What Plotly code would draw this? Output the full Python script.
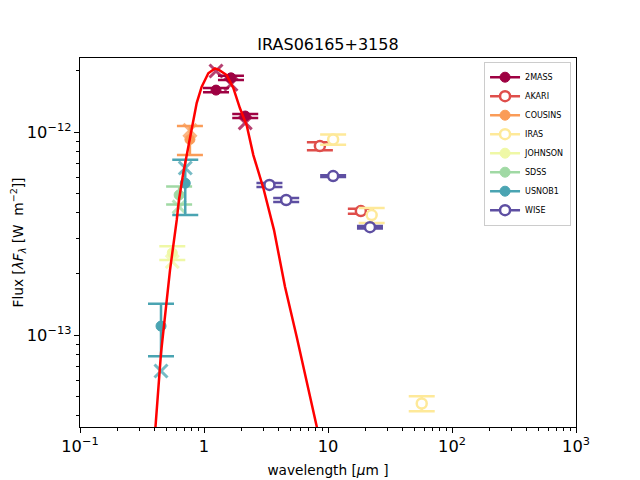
import plotly.graph_objects as go

title = "IRAS06165+3158"

surveys = ["2MASS", "AKARI", "COUSINS", "IRAS", "JOHNSON", "SDSS", "USNOB1", "WISE"]
colors = ["#9e0142", "#df4e4b", "#fa9c58", "#fee999",
          "#eff8a6", "#a0d9a4", "#4aa4b2", "#5e4fa2"]
hollow = [False, True, False, True, False, False, False, True]

# observed photometry: wavelength [um], flux [W m-2], flux error
mass2_wave = [1.25, 1.65, 2.15]
mass2_flux = [1.61e-12, 1.85e-12, 1.20e-12]
mass2_err = [0.037e-12, 0.043e-12, 0.028e-12]

akari_wave = [8.6, 18.4]
akari_flux = [8.53e-13, 4.08e-13]
akari_err = [0.39e-13, 0.115e-13]

cousins_wave = [0.77]
cousins_flux = [9.2e-13]
cousins_err = [1.5e-13]

iras_wave = [11.0, 22.5, 57.0]
iras_flux = [9.2e-13, 3.9e-13, 4.6e-14]
iras_err = [0.53e-13, 0.33e-13, 0.039e-13]

johnson_wave = [0.555]
johnson_flux = [2.54e-13]
johnson_err = [0.2e-13]

sdss_wave = [0.63]
sdss_flux = [4.9e-13]
sdss_err = [0.5e-13]

usnob1_wave = [0.706, 0.45]
usnob1_flux = [5.6e-13, 1.107e-13]
usnob1_err = [1.7e-13, 0.32e-13]

wise_wave = [3.37, 4.6, 11.0, 21.8]
wise_flux = [5.49e-13, 4.63e-13, 6.07e-13, 3.40e-13]
wise_err = [0.13e-13, 0.11e-13, 0.06e-13, 0.05e-13]

# synthetic (model) photometry, drawn as crosses
mass2_model = [2.0e-12, 1.72e-12, 1.11e-12]
cousins_model = [1.02e-12]
johnson_model = [2.30e-13]
sdss_model = [4.28e-13]
usnob1_model = [6.65e-13, 6.65e-14]

# model SED curve
sed_wave = [0.40, 0.406, 0.450, 0.484, 0.532, 0.603, 0.628, 0.681, 0.747, 0.805,
            0.873, 0.957, 1.083, 1.227, 1.328, 1.523, 1.723, 1.95, 2.21, 2.50,
            3.01, 3.67, 4.50, 5.59, 6.73, 8.20, 8.96]
sed_flux = [3.0e-14, 3.52e-14, 8.15e-14, 1.19e-13, 2.09e-13, 3.69e-13, 4.63e-13,
            6.28e-13, 8.47e-13, 1.06e-12, 1.39e-12, 1.67e-12, 1.95e-12, 2.06e-12,
            2.02e-12, 1.91e-12, 1.65e-12, 1.31e-12, 1.08e-12, 7.7e-13, 5.3e-13,
            3.29e-13, 1.73e-13, 9.8e-14, 6.0e-14, 3.53e-14, 2.7e-14]

obs = [
    (mass2_wave, mass2_flux, mass2_err),
    (akari_wave, akari_flux, akari_err),
    (cousins_wave, cousins_flux, cousins_err),
    (iras_wave, iras_flux, iras_err),
    (johnson_wave, johnson_flux, johnson_err),
    (sdss_wave, sdss_flux, sdss_err),
    (usnob1_wave, usnob1_flux, usnob1_err),
    (wise_wave, wise_flux, wise_err),
]
models = {"2MASS": mass2_model, "COUSINS": cousins_model, "JOHNSON": johnson_model,
          "SDSS": sdss_model, "USNOB1": usnob1_model}


def rgba(hex_color, alpha):
    h = hex_color.lstrip("#")
    r, g, b = int(h[0:2], 16), int(h[2:4], 16), int(h[4:6], 16)
    return f"rgba({r},{g},{b},{alpha})"


def marker_style(color, is_open):
    if is_open:
        return dict(symbol="circle", size=10, color="white",
                    line=dict(color=color, width=2.5))
    return dict(symbol="circle", size=10, color=color, line=dict(color=color, width=1))


fig = go.Figure()

# crosses for the model photometry
for name, col, (wave, flux, err) in zip(surveys, colors, obs):
    if name in models:
        fig.add_trace(go.Scatter(
            x=wave, y=models[name], mode="markers", showlegend=False,
            marker=dict(symbol="x-thin", size=13,
                        line=dict(color=rgba(col, 0.75), width=3)),
        ))

# observed points with error bars
for name, col, opn, (wave, flux, err) in zip(surveys, colors, hollow, obs):
    fig.add_trace(go.Scatter(
        x=wave, y=flux, mode="markers", showlegend=False,
        marker=marker_style(col, opn),
        error_y=dict(type="data", array=err, color=col, thickness=2.5, width=13),
    ))
    # legend entry
    fig.add_trace(go.Scatter(
        x=[None], y=[None], mode="lines+markers", name=name,
        marker=marker_style(col, opn), line=dict(color=col, width=2.5),
    ))

fig.add_trace(go.Scatter(
    x=sed_wave, y=sed_flux, mode="lines", showlegend=False,
    line=dict(color="red", width=2.5),
))

axis_common = dict(
    type="log", showline=True, linecolor="black", linewidth=1, mirror=True,
    ticks="outside", ticklen=5, tickcolor="black", showgrid=False, zeroline=False,
    dtick=1, exponentformat="power", automargin=False,
    minor=dict(ticks="outside", ticklen=3, tickcolor="black", dtick="D1", showgrid=False),
    tickfont=dict(size=13, color="black"),
)

fig.update_xaxes(range=[-1, 3],
                 title=dict(text="wavelength [<i>μ</i>m ]", font=dict(size=13.7), standoff=10),
                 **axis_common)
fig.update_yaxes(range=[-13.453, -11.635],
                 title=dict(text="Flux [<i>λF</i><sub><i>λ</i></sub> [W  m<sup>−2</sup>]]",
                            font=dict(size=13.7), standoff=11),
                 **axis_common)

# the page body adds an 8 px offset, so the figure is drawn slightly smaller
fig.update_layout(
    width=632, height=472,
    margin=dict(l=72, r=64, t=50, b=53),
    paper_bgcolor="white", plot_bgcolor="white",
    font=dict(family="DejaVu Sans", color="black"),
    title=dict(text=title, x=0.5, xanchor="center", xref="paper",
               y=1 - 36 / 472, yanchor="middle", yref="container",
               font=dict(size=16)),
    legend=dict(x=0.99, xanchor="right", y=0.99, yanchor="top",
                bgcolor="rgba(255,255,255,0.8)", bordercolor="#cccccc", borderwidth=1,
                font=dict(size=8), itemwidth=30),
)

fig.write_html("out.html")
